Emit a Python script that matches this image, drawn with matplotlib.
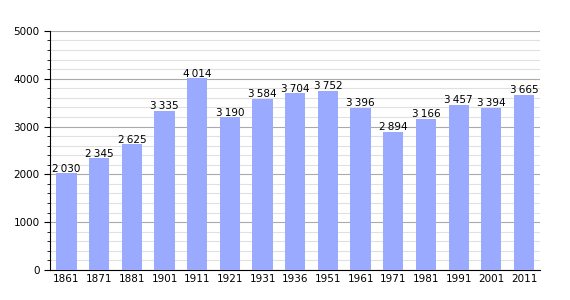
import matplotlib
matplotlib.use("Agg")
import matplotlib.pyplot as plt
from matplotlib.ticker import MultipleLocator

# population per census year
years = ["1861", "1871", "1881", "1901", "1911", "1921", "1931", "1936",
         "1951", "1961", "1971", "1981", "1991", "2001", "2011"]
population = [2030, 2345, 2625, 3335, 4014, 3190, 3584, 3704,
              3752, 3396, 2894, 3166, 3457, 3394, 3665]

fig = plt.figure(figsize=(5.7, 3.0), dpi=100)
ax = fig.add_axes([0.088, 0.1, 0.86, 0.797])

x = range(len(years))
ax.bar(x, population, width=0.62, color="#99aaff", zorder=3)

for i, v in enumerate(population):
    label = f"{v:,}".replace(",", "\u2009")
    ax.text(i, v - 15, label, ha="center", va="bottom", fontsize=7.5, zorder=4)

ax.set_ylim(0, 5000)
ax.set_xlim(-0.5, len(years) - 0.5)
ax.yaxis.set_major_locator(MultipleLocator(1000))
ax.yaxis.set_minor_locator(MultipleLocator(200))
ax.grid(axis="y", which="major", color="#aaaaaa", linewidth=0.8, zorder=0)
ax.grid(axis="y", which="minor", color="#e0e0e0", linewidth=0.8, zorder=0)

ax.set_xticks(list(x))
ax.set_xticklabels(years)
ax.tick_params(axis="x", length=0, labelsize=7.5, pad=3)
ax.tick_params(axis="y", which="major", length=4, labelsize=7.5)
ax.tick_params(axis="y", which="minor", length=2)

ax.spines["top"].set_visible(False)
ax.spines["right"].set_visible(False)

plt.savefig("out.png")
